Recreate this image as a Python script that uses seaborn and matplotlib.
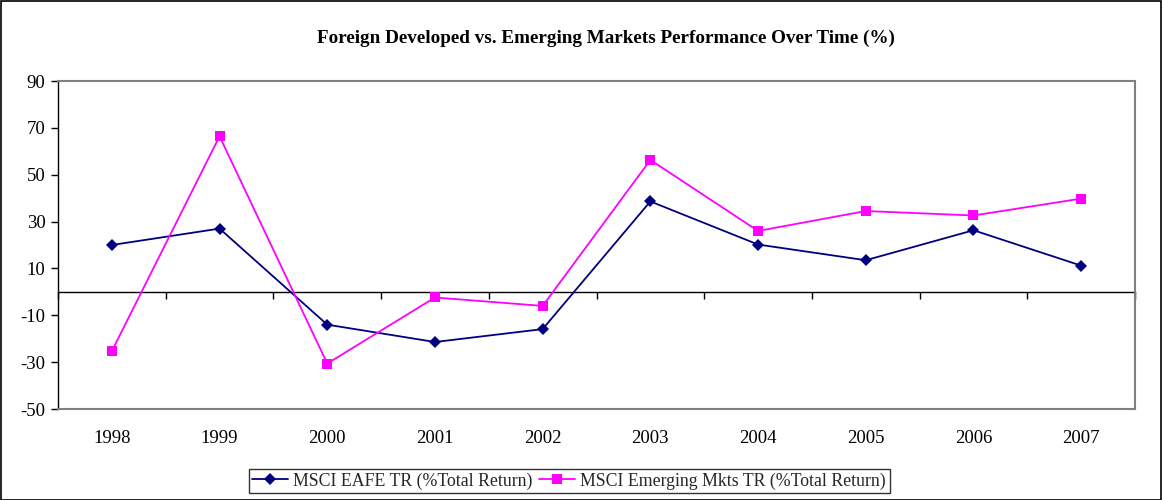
import numpy as np
import pandas as pd
import matplotlib
matplotlib.use("Agg")
import matplotlib.pyplot as plt
import seaborn as sns
from matplotlib.patches import Rectangle

years = [1998, 1999, 2000, 2001, 2002, 2003, 2004, 2005, 2006, 2007]
eafe = [20.0, 27.0, -14.0, -21.4, -15.9, 38.6, 20.2, 13.5, 26.3, 11.2]
emerging = [-25.3, 66.4, -30.6, -2.4, -6.0, 56.3, 26.0, 34.5, 32.6, 39.8]
y_ticks = [-50, -30, -10, 10, 30, 50, 70, 90]

name_eafe = "MSCI EAFE TR (%Total Return)"
name_em = "MSCI Emerging Mkts TR (%Total Return)"

sns.set_theme(style="white")
plt.rcParams["font.family"] = ["Liberation Serif", "DejaVu Serif"]
plt.rcParams["axes.unicode_minus"] = False

df = pd.DataFrame({"year": years * 2,
                   "value": eafe + emerging,
                   "series": [name_eafe] * len(years) + [name_em] * len(years)})

fig = plt.figure(figsize=(11.62, 5.0), dpi=100)
ax = fig.add_axes([58 / 1162, 1 - 409 / 500, (1135 - 58) / 1162, (409 - 81) / 500])

sns.lineplot(data=df, x="year", y="value", hue="series", style="series",
             palette={name_eafe: "#000080", name_em: "#FF00FF"},
             markers={name_eafe: "D", name_em: "s"}, dashes=False,
             markersize=7, markeredgewidth=0, linewidth=1.3, ax=ax, legend=False)
# square marker a bit larger than the diamond
for line, ms in zip(ax.lines, [6, 7.5]):
    line.set_markersize(ms)

ymin, ymax = -50, 90
ax.set_ylim(ymin, ymax)
ax.set_xlim(years[0] - 0.5, years[-1] + 0.5)
ax.set_yticks(y_ticks)
ax.set_xticks(years)
ax.set_xlabel("")
ax.set_ylabel("")
ax.tick_params(axis="y", direction="out", length=5, width=1, color="black",
               labelsize=13.5, pad=4, left=True)
ax.tick_params(axis="x", length=0, labelsize=13.5, pad=15)
for lbl in ax.get_xticklabels() + ax.get_yticklabels():
    lbl.set_color("black")

for side in ["top", "right", "bottom"]:
    ax.spines[side].set_color("#808080")
    ax.spines[side].set_linewidth(1.5)
ax.spines["left"].set_color("black")
ax.spines["left"].set_linewidth(1.0)

# category axis crossing at zero, tick marks between categories
zero_pos = (0 - ymin) / (ymax - ymin)
sec = ax.secondary_xaxis(zero_pos)
sec.spines["bottom"].set_color("black")
sec.spines["bottom"].set_linewidth(1.0)
sec.set_xticks([y - 0.5 for y in years] + [years[-1] + 0.5])
sec.tick_params(direction="out", length=5, width=1, color="black", labelbottom=False)

fig.text(606 / 1162, 1 - 38 / 500, "Foreign Developed vs. Emerging Markets Performance Over Time (%)",
         ha="center", va="center", fontsize=13.8, fontweight="bold", color="black")

handles = [plt.Line2D([], [], color="#000080", marker="D", markersize=6, markeredgewidth=0,
                      linewidth=1.3, label=name_eafe),
           plt.Line2D([], [], color="#FF00FF", marker="s", markersize=7, markeredgewidth=0,
                      linewidth=1.3, label=name_em)]
leg = fig.legend(handles=handles, loc="center", bbox_to_anchor=(569 / 1162, 1 - 481 / 500),
                 ncol=2, frameon=True, fancybox=False, fontsize=12.8, handlelength=2.0,
                 handletextpad=0.3, columnspacing=0.4, borderpad=0.2, edgecolor="black")
leg.get_frame().set_linewidth(1.0)

fig.patches.append(Rectangle((0.001, 0.001), 0.998, 0.997, transform=fig.transFigure,
                             fill=False, edgecolor="black", linewidth=1.2))

fig.savefig("out.png", dpi=100)
